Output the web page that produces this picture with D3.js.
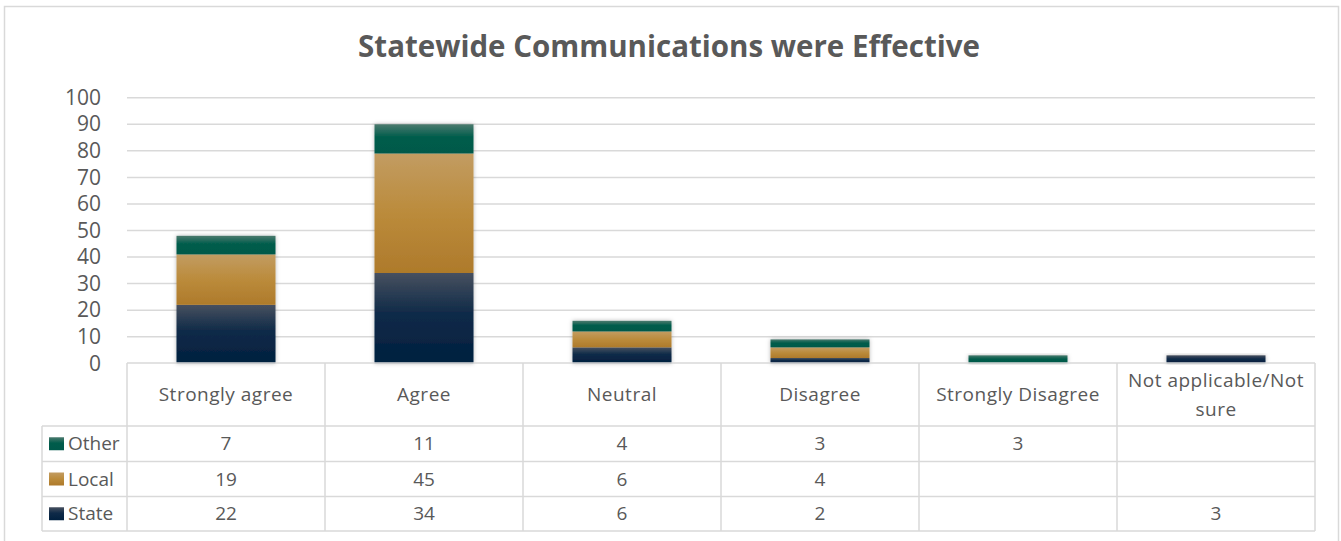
<!DOCTYPE html>
<html>
<head>
<meta charset="utf-8">
<script src="https://cdn.jsdelivr.net/npm/d3@7"></script>
<style>
  body { margin: 0; background: #fff; }
  svg { display: block; }
</style>
</head>
<body>
<svg id="chart" width="1341" height="541"></svg>
<script>
// Survey responses by respondent group
const categories = ["Strongly agree", "Agree", "Neutral", "Disagree", "Strongly Disagree", "Not applicable/Not sure"];
const seriesKeys = ["State", "Local", "Other"];
const stateValues = [22, 34, 6, 2, null, 3];
const localValues = [19, 45, 6, 4, null, null];
const otherValues = [7, 11, 4, 3, 3, null];
const yTickValues = [0, 10, 20, 30, 40, 50, 60, 70, 80, 90, 100];
const titleText = "Statewide Communications were Effective";

const seriesValues = { State: stateValues, Local: localValues, Other: otherValues };
const tableRows = ["Other", "Local", "State"];

const gradientStops = {
  State: [["0%", "#47505f"], ["45%", "#0f2a48"], ["100%", "#01203f"]],
  Local: [["0%", "#c29c62"], ["50%", "#bb8b3b"], ["100%", "#ae7a2b"]],
  Other: [["0%", "#4b7a6e"], ["45%", "#005c4b"], ["100%", "#00594a"]]
};

const svg = d3.select("#chart");
const textColor = "#595959";
const lineColor = "#d9d9d9";
const font = "'Open Sans', 'DejaVu Sans', sans-serif";

// Outer chart frame
svg.append("rect")
  .attr("x", 4.5).attr("y", 6.5).attr("width", 1334).attr("height", 545)
  .attr("fill", "#fff").attr("stroke", lineColor).attr("stroke-width", 1.5);

const defs = svg.append("defs");
seriesKeys.forEach(k => {
  const g = defs.append("linearGradient").attr("id", "grad-" + k)
    .attr("x1", 0).attr("y1", 0).attr("x2", 0).attr("y2", 1);
  gradientStops[k].forEach(([o, c]) => g.append("stop").attr("offset", o).attr("stop-color", c));
});
const shadow = defs.append("filter").attr("id", "barShadow")
  .attr("x", "-20%").attr("y", "-20%").attr("width", "140%").attr("height", "140%");
shadow.append("feDropShadow").attr("dx", 0).attr("dy", 0).attr("stdDeviation", 2.2)
  .attr("flood-color", "#000").attr("flood-opacity", 0.28);

// Scales
const x = d3.scaleBand().domain(categories).range([127, 1315]).paddingInner(0).paddingOuter(0);
const y = d3.scaleLinear().domain([0, 100]).range([363.3, 97.7]);

// Title
svg.append("text")
  .attr("x", 669).attr("y", 57)
  .attr("text-anchor", "middle")
  .attr("font-family", font).attr("font-weight", 700).attr("font-size", 29.5)
  .attr("fill", textColor)
  .text(titleText);

// Gridlines
svg.append("g").selectAll("line")
  .data(yTickValues.filter(v => v > 0))
  .join("line")
  .attr("x1", 127).attr("x2", 1315)
  .attr("y1", d => y(d)).attr("y2", d => y(d))
  .attr("stroke", lineColor).attr("stroke-width", 1.5);

// Y axis labels
const yAxis = svg.append("g")
  .attr("transform", "translate(127,0)")
  .call(d3.axisLeft(y).tickValues(yTickValues).tickSize(0).tickPadding(26));
yAxis.select(".domain").remove();
yAxis.selectAll("text")
  .attr("font-family", font).attr("font-size", 21).attr("fill", textColor);

// Stacked bars
const rows = categories.map((c, i) => {
  const r = { category: c };
  seriesKeys.forEach(k => r[k] = seriesValues[k][i] || 0);
  return r;
});
const stacked = d3.stack().keys(seriesKeys)(rows);
const barW = x.bandwidth() * 0.5;

const barGroups = svg.append("g").selectAll("g.bar")
  .data(rows)
  .join("g")
  .attr("class", "bar")
  .attr("filter", "url(#barShadow)");

barGroups.each(function (row, i) {
  const g = d3.select(this);
  stacked.forEach(layer => {
    const seg = layer[i];
    if (seg[1] - seg[0] <= 0) return;
    g.append("rect")
      .attr("x", x(row.category) + (x.bandwidth() - barW) / 2)
      .attr("width", barW)
      .attr("y", y(seg[1]))
      .attr("height", y(seg[0]) - y(seg[1]))
      .attr("fill", "url(#grad-" + layer.key + ")");
  });
});

// Data table
const headerTop = 363, headerBottom = 426;
const rowBounds = [426, 461.5, 496.5, 531];
const legendLeft = 42;
const table = svg.append("g");

table.append("line")
  .attr("x1", 127).attr("x2", 1315).attr("y1", headerTop).attr("y2", headerTop)
  .attr("stroke", lineColor).attr("stroke-width", 1.5);
rowBounds.forEach(yy => {
  table.append("line")
    .attr("x1", legendLeft).attr("x2", 1315).attr("y1", yy).attr("y2", yy)
    .attr("stroke", lineColor).attr("stroke-width", 1.5);
});
const colEdges = categories.map(c => x(c)).concat([x.range()[1]]);
colEdges.forEach(xx => {
  table.append("line")
    .attr("x1", xx).attr("x2", xx).attr("y1", headerTop).attr("y2", rowBounds[3])
    .attr("stroke", lineColor).attr("stroke-width", 1.5);
});
table.append("line")
  .attr("x1", legendLeft).attr("x2", legendLeft).attr("y1", rowBounds[0]).attr("y2", rowBounds[3])
  .attr("stroke", lineColor).attr("stroke-width", 1.5);

// Header labels, wrapped to the column width
const lineHeight = 29;
categories.forEach(c => {
  const cx = x(c) + x.bandwidth() / 2;
  const t = table.append("text")
    .attr("x", cx)
    .attr("text-anchor", "middle")
    .attr("font-family", font).attr("font-size", 19).attr("letter-spacing", 0.5)
    .attr("fill", textColor);
  const words = c.split(" ");
  const lines = [];
  let current = [];
  const probe = t.append("tspan");
  words.forEach(w => {
    const trial = current.concat([w]).join(" ");
    probe.text(trial);
    if (probe.node().getComputedTextLength() > x.bandwidth() - 12 && current.length) {
      lines.push(current.join(" "));
      current = [w];
    } else {
      current.push(w);
    }
  });
  lines.push(current.join(" "));
  probe.remove();
  const mid = (headerTop + headerBottom) / 2;
  const first = mid - (lines.length - 1) * lineHeight / 2;
  lines.forEach((ln, j) => {
    t.append("tspan").attr("x", cx).attr("y", first + j * lineHeight)
      .attr("dy", "0.35em").text(ln);
  });
});

// Row legend keys and values
tableRows.forEach((k, r) => {
  const cy = (rowBounds[r] + rowBounds[r + 1]) / 2;
  table.append("rect")
    .attr("x", 49).attr("y", cy - 6.5).attr("width", 15).attr("height", 13)
    .attr("fill", "url(#grad-" + k + ")");
  table.append("text")
    .attr("x", 68).attr("y", cy).attr("dy", "0.35em")
    .attr("font-family", font).attr("font-size", 19).attr("fill", textColor)
    .text(k);
  seriesValues[k].forEach((v, i) => {
    if (v == null) return;
    table.append("text")
      .attr("x", x(categories[i]) + x.bandwidth() / 2).attr("y", cy).attr("dy", "0.35em")
      .attr("text-anchor", "middle")
      .attr("font-family", font).attr("font-size", 19).attr("fill", textColor)
      .text(v);
  });
});
</script>
</body>
</html>
